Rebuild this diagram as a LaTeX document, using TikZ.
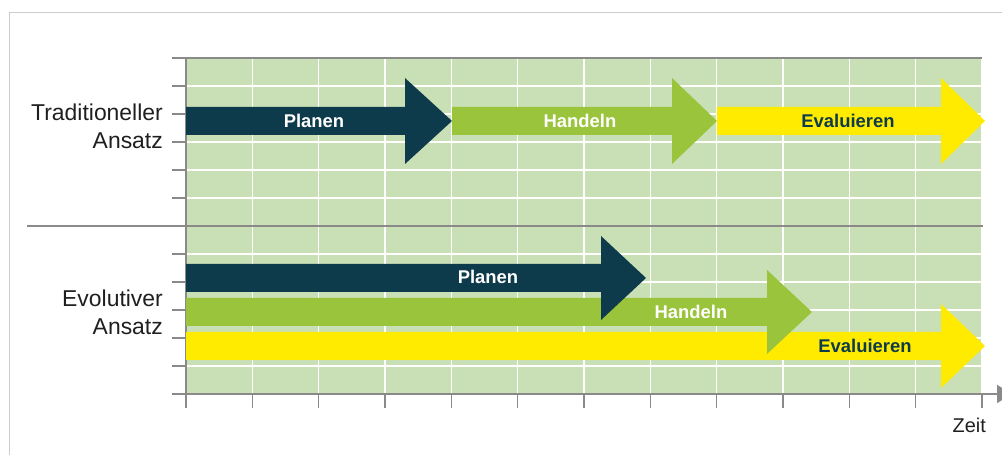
\documentclass[tikz,border=0pt]{standalone}
\usepackage{fontspec}
\setmainfont{Liberation Sans}
\usetikzlibrary{arrows.meta}

\definecolor{planblue}{HTML}{0E3B4B}
\definecolor{actgreen}{HTML}{9AC43C}
\definecolor{evalyellow}{HTML}{FFEB00}
\definecolor{gridgreen}{HTML}{C9DFB5}
\definecolor{axisgray}{HTML}{8A8A8A}
\definecolor{framegray}{HTML}{CCCCCC}

% color, start x, head base x, tip x, middle y, head half width
\newcommand{\phasearrow}[6]{%
  \fill[#1] (#2,#5-14) -- (#3,#5-14) -- (#3,#5-#6) -- (#4,#5)
    -- (#3,#5+#6) -- (#3,#5+14) -- (#2,#5+14) -- cycle;}

\tikzset{
  gridline/.style={white,line width=1.6bp},
  axisline/.style={axisgray,line width=1.6bp},
  phaselabel/.style={font=\fontsize{18.5}{20}\selectfont\bfseries,inner sep=0pt},
  rowlabel/.style={anchor=east,align=right,inner sep=0pt,text=black!88,
    font=\fontsize{23}{28}\selectfont},
}

\begin{document}
\begin{tikzpicture}[x=1bp,y=1bp]
\useasboundingbox (0,0) rectangle (1002,455);
%%
\draw[framegray,line width=1bp] (9,0) -- (9,442) -- (1002,442);
%% grid
\fill[gridgreen] (186,61) rectangle (982,397);
\foreach \i in {1,...,12}
  \draw[gridline] ({186+\i*66.333},61) -- ++(0,336);
\foreach \j in {1,...,11}
  \draw[gridline] (186,{61+\j*28}) -- (982,{61+\j*28});
\draw[axisline] (186,397) -- (982,397);
\draw[axisline,line width=1.4bp] (27,229) -- (983,229);
%% ticks
\foreach \j in {0,...,5,7,8,...,12}
  \draw[axisline] (172,{61+\j*28}) -- (186,{61+\j*28});
\foreach \i in {0,...,12}
  \draw[axisline] ({186+\i*66.333},61) -- ++(0,-14);
\coordinate (yaxisTop) at (186,397);
\coordinate (xaxisStart) at (172,61);
\coordinate (xaxisEnd) at (1012,61);
\draw[axisline] (186,61) -- (yaxisTop);
\draw[axisline,-{Triangle[length=15bp,width=18bp]}] (xaxisStart) -- (xaxisEnd);
%% traditional
\phasearrow{planblue}{186}{405}{452}{334}{43}
\phasearrow{actgreen}{452}{672}{717}{334}{43}
\phasearrow{evalyellow}{717}{941}{985}{334}{43}
%% evolutionary
\phasearrow{evalyellow}{186}{941}{985}{109}{42}
\phasearrow{actgreen}{186}{767}{812}{143}{42}
\phasearrow{planblue}{186}{601}{646}{177}{42}
%% labels
\node[phaselabel,text=white] (planTrad) at (314,334) {Planen};
\node[phaselabel,text=white] (actTrad) at (580,334) {Handeln};
\node[phaselabel,text=planblue] (evalTrad) at (848,334) {Evaluieren};
\node[phaselabel,text=white] (planEvo) at (488,178) {Planen};
\node[phaselabel,text=white] (actEvo) at (691,143) {Handeln};
\node[phaselabel,text=planblue] (evalEvo) at (865,109) {Evaluieren};
\node[rowlabel] (tradLabel) at (163,329) {Traditioneller\\Ansatz};
\node[rowlabel] (evoLabel) at (163,142.5) {Evolutiver\\Ansatz};
\node[anchor=base east,inner sep=0pt,text=black!88,font=\fontsize{20}{24}\selectfont] (timeLabel) at (986,22) {Zeit};
%
\end{tikzpicture}
\end{document}
